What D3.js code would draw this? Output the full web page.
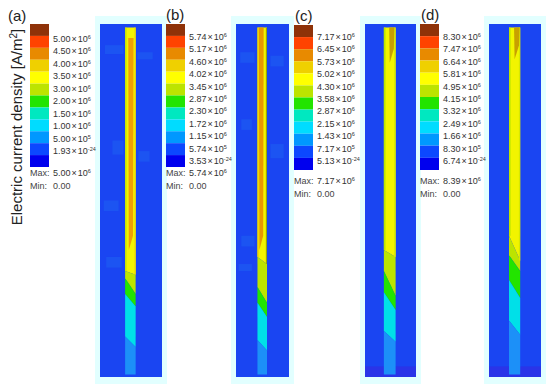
<!DOCTYPE html>
<html>
<head>
<meta charset="utf-8">
<script src="https://cdn.jsdelivr.net/npm/d3@7"></script>
<style>
  html, body { margin: 0; padding: 0; background: #fff; }
  text { font-family: "Liberation Sans", Arial, sans-serif; }
</style>
</head>
<body>
<svg id="chart" width="550" height="384"></svg>
<script>
var panelNames = ['(a)', '(b)', '(c)', '(d)'];

// legend colours, top to bottom
var legendColors = ['#8f3208', '#ff4300', '#e88a00', '#efd000', '#ffff00', '#bce400',
                    '#22e400', '#00e8c0', '#00dcff', '#0098ff', '#0c48ff', '#0000ee'];

var mantissasA = ['5.00', '4.50', '4.00', '3.50', '3.00', '2.00', '1.50', '1.00', '5.00', '1.93'];
var mantissasB = ['5.74', '5.17', '4.60', '4.02', '3.45', '2.87', '2.30', '1.72', '1.15', '5.74', '3.53'];
var mantissasC = ['7.17', '6.45', '5.73', '5.02', '4.30', '3.58', '2.87', '2.15', '1.43', '7.17', '5.13'];
var mantissasD = ['8.30', '7.47', '6.64', '5.81', '4.95', '4.15', '3.32', '2.49', '1.66', '8.30', '6.74'];
var exponentsA = ['6', '6', '6', '6', '6', '6', '6', '6', '5', '-24'];
var exponentsRest = ['6', '6', '6', '6', '6', '6', '6', '6', '6', '5', '-24'];
var maxLabels = ['5.00', '5.74', '7.17', '8.39'];

// where each colour of the rod starts, read along the rod (0 top, 1 bottom),
// once on its left edge and once on its right edge
var rodColors = ['#f2f400', '#bce400', '#22e400', '#00e0e8', '#1c90f8'];
var rodStartLeftA = [0, 0.70, 0.72, 0.765, 0.885];
var rodStartRightA = [0, 0.71, 0.765, 0.80, 0.915];
var rodStartLeftB = [0, 0.66, 0.745, 0.79, 0.895];
var rodStartRightB = [0, 0.68, 0.79, 0.83, 0.925];
var rodStartLeftC = [0, 0.64, 0.70, 0.76, 0.87];
var rodStartRightC = [0, 0.66, 0.77, 0.81, 0.90];
var rodStartLeftD = [0, 0.60, 0.655, 0.725, 0.84];
var rodStartRightD = [0, 0.67, 0.70, 0.776, 0.88];

// hot core of the rod: colour, left and right edge across the rod, where it starts and ends
var coreColors = ['#f0a000', '#e89800', '#c8a000', '#c8a000'];
var coreLeft = [0.3, 0.15, 0.45, 0.45];
var coreRight = [0.8, 0.65, 0.9, 0.95];
var coreStart = [0.04, 0.01, 0.01, 0.01];
var coreEnd = [0.6, 0.6, 0.07, 0.06];

// thin strips down the sides of the rod
var leftStripColors = ['#c8e400', '#f0d000', '#bce400', '#bce400'];
var rightStripColors = ['#f0d800', '#98a800', '#d8e800', '#d8e800'];

// sides of the rod across the plate (0 left, 1 right)
var rodLeft = [0.405, 0.405, 0.37, 0.385];
var rodRight = [0.575, 0.585, 0.6, 0.6];

// lighter patches left on the plates, [x0, x1, y0, y1] as plate fractions
var patchesA = [[0.08, 0.38, 0.06, 0.085], [0.6, 0.85, 0.08, 0.1], [0.2, 0.38, 0.33, 0.37], [0.62, 0.8, 0.36, 0.39],
                [0.06, 0.3, 0.5, 0.53], [0.1, 0.35, 0.66, 0.69]];
var patchesB = [[0.08, 0.35, 0.08, 0.11], [0.65, 0.9, 0.09, 0.12], [0.1, 0.3, 0.27, 0.3],
                [0.65, 0.9, 0.34, 0.38], [0.1, 0.35, 0.6, 0.63], [0.05, 0.3, 0.68, 0.7]];

// darker foot of the plates, 1 means none
var footStart = [1, 1, 0.97, 0.97];

var panelMantissas = [mantissasA, mantissasB, mantissasC, mantissasD];
var panelExponents = [exponentsA, exponentsRest, exponentsRest, exponentsRest];
var panelLeft = [rodStartLeftA, rodStartLeftB, rodStartLeftC, rodStartLeftD];
var panelRight = [rodStartRightA, rodStartRightB, rodStartRightC, rodStartRightD];
var panelPatches = [patchesA, patchesB, [], []];

// layout of each panel
var layout = [
  { titleX: 8, titleY: 21, barX: 30, barW: 19, barTop: 24, barBottom: 167, labelX: 53, labelTop: 39, labelBottom: 151, maxY: 173, plateX0: 100, plateX1: 162 },
  { titleX: 166, titleY: 20, barX: 166, barW: 19, barTop: 24, barBottom: 167, labelX: 189, labelTop: 37, labelBottom: 161, maxY: 173, plateX0: 236, plateX1: 289 },
  { titleX: 295, titleY: 21, barX: 294, barW: 19, barTop: 25, barBottom: 170, labelX: 317, labelTop: 37, labelBottom: 161, maxY: 181, plateX0: 365, plateX1: 416 },
  { titleX: 421, titleY: 20, barX: 420, barW: 19, barTop: 24, barBottom: 170, labelX: 443, labelTop: 37, labelBottom: 161, maxY: 181, plateX0: 489, plateX1: 541 }
];

var plateTop = 24;
var plateBottom = 377;

var svg = d3.select('#chart');

// plates go first so the legend text stays on top of their halo
panelNames.forEach(function(name, i) {
  drawPlate(svg.append('g'), layout[i], i);
});

svg.append('text')
  .attr('transform', 'translate(22,127) rotate(-90)')
  .attr('text-anchor', 'middle')
  .attr('font-size', 15)
  .attr('fill', '#222')
  .call(function(t) {
    t.append('tspan').text('Electric current density [A/m');
    t.append('tspan').attr('font-size', 10).attr('dy', -5).text('2');
    t.append('tspan').attr('dy', 5).text(']');
  });

panelNames.forEach(function(name, i) {
  var l = layout[i];
  var g = svg.append('g');

  g.append('text')
    .attr('x', l.titleX).attr('y', l.titleY)
    .attr('font-size', 15)
    .attr('fill', '#222')
    .text(name);

  // legend bar
  var barY = d3.scaleBand()
    .domain(d3.range(legendColors.length))
    .range([l.barTop, l.barBottom]);

  g.selectAll('.band')
    .data(legendColors)
    .enter()
    .append('rect')
    .attr('x', l.barX)
    .attr('width', l.barW)
    .attr('y', function(d, j) { return barY(j); })
    .attr('height', barY.bandwidth())
    .attr('fill', function(d) { return d; });

  // legend labels
  var mantissas = panelMantissas[i];
  var exponents = panelExponents[i];
  var labelY = d3.scalePoint()
    .domain(d3.range(mantissas.length))
    .range([l.labelTop, l.labelBottom]);

  mantissas.forEach(function(m, j) {
    addSciLabel(g, l.labelX, labelY(j) + 3, m, exponents[j]);
  });

  g.append('text').attr('x', l.barX).attr('y', l.maxY + 3).attr('font-size', 9).attr('fill', '#444').text('Max:');
  addSciLabel(g, l.labelX, l.maxY + 3, maxLabels[i], '6');
  g.append('text').attr('x', l.barX).attr('y', l.maxY + 16).attr('font-size', 9).attr('fill', '#444').text('Min:');
  g.append('text').attr('x', l.labelX).attr('y', l.maxY + 16).attr('font-size', 9).attr('fill', '#444').text('0.00');
});

function addSciLabel(g, x, y, mantissa, exponent) {
  var t = g.append('text').attr('x', x).attr('y', y).attr('font-size', 9).attr('fill', '#333');
  t.append('tspan').text(mantissa);
  t.append('tspan').attr('dx', 1).text('\u00d7');
  t.append('tspan').attr('dx', 1).text('10');
  t.append('tspan').attr('font-size', 5.5).attr('dy', -3).text(exponent);
}

function drawPlate(g, l, i) {
  var x = d3.scaleLinear().domain([0, 1]).range([l.plateX0, l.plateX1]);
  var y = d3.scaleLinear().domain([0, 1]).range([plateTop, plateBottom]);
  var line = d3.line().x(function(d) { return d[0]; }).y(function(d) { return d[1]; });

  // pale halo round the plate
  g.append('rect')
    .attr('x', x(0) - 5).attr('width', x(1) - x(0) + 10)
    .attr('y', plateTop - 8).attr('height', 384 - plateTop + 8)
    .attr('fill', '#e2ffff');

  g.append('rect')
    .attr('x', x(0)).attr('width', x(1) - x(0))
    .attr('y', y(0)).attr('height', y(1) - y(0))
    .attr('fill', '#1a45f2');

  g.append('rect')
    .attr('x', x(0)).attr('width', x(1) - x(0))
    .attr('y', y(footStart[i])).attr('height', y(1) - y(footStart[i]))
    .attr('fill', '#2a34e8');

  g.selectAll('.patch')
    .data(panelPatches[i])
    .enter()
    .append('rect')
    .attr('x', function(d) { return x(d[0]); })
    .attr('width', function(d) { return x(d[1]) - x(d[0]); })
    .attr('y', function(d) { return y(d[2]); })
    .attr('height', function(d) { return y(d[3]) - y(d[2]); })
    .attr('fill', '#1c54f2');

  // the rod is cut in colour zones with slanted borders
  var rx = d3.scaleLinear().domain([0, 1]).range([x(rodLeft[i]), x(rodRight[i])]);
  var top = 0.01;
  var bottom = 0.993;
  var lefts = panelLeft[i];
  var rights = panelRight[i];

  rodColors.forEach(function(color, j) {
    var endL = j + 1 < lefts.length ? lefts[j + 1] : bottom;
    var endR = j + 1 < rights.length ? rights[j + 1] : bottom;
    var startL = Math.max(lefts[j], top);
    var startR = Math.max(rights[j], top);
    g.append('path')
      .attr('d', line([[rx(0), y(startL)], [rx(1), y(startR)], [rx(1), y(endR)], [rx(0), y(endL)]]) + 'Z')
      .attr('fill', color);
  });

  // side strips of the rod, they run out where the yellow zone ends
  g.append('rect')
    .attr('x', rx(0)).attr('width', rx(0.14) - rx(0))
    .attr('y', y(top)).attr('height', y(lefts[1]) - y(top))
    .attr('fill', leftStripColors[i]);
  g.append('rect')
    .attr('x', rx(0.88)).attr('width', rx(1) - rx(0.88))
    .attr('y', y(top)).attr('height', y(rights[1]) - y(top))
    .attr('fill', rightStripColors[i]);

  // hot core, pointed at its lower end
  g.append('path')
    .attr('d', line([[rx(coreLeft[i]), y(coreStart[i])], [rx(coreRight[i]), y(coreStart[i])],
                     [rx(coreRight[i] - 0.05), y(coreEnd[i])], [rx(coreLeft[i] + 0.05), y(coreEnd[i] + 0.04)]]) + 'Z')
    .attr('fill', coreColors[i]);
}
</script>
</body>
</html>
